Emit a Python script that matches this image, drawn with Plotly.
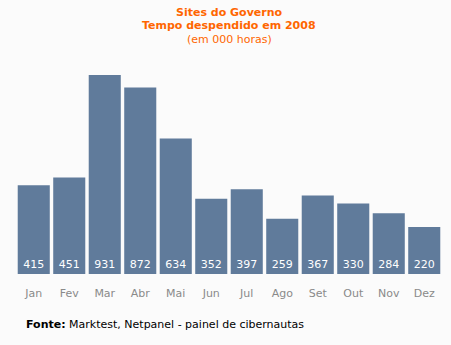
import plotly.graph_objects as go

months = ["Jan", "Fev", "Mar", "Abr", "Mai", "Jun", "Jul", "Ago", "Set", "Out", "Nov", "Dez"]
values = [415, 451, 931, 872, 634, 352, 397, 259, 367, 330, 284, 220]

W, H = 451, 345
l, r, t, b = 16, 9, 75, 71
pw, ph = W - l - r, H - t - b

def ypix(py):
    return (H - b - py) / ph

def xpix(px):
    return (px - l) / pw

bg = "#fbfbfb"
fig = go.Figure(go.Bar(
    x=months, y=values,
    marker=dict(color="#607b9b", line=dict(width=0)),
    text=[str(v) for v in values],
    textposition="inside",
    insidetextanchor="start",
    textangle=0,
    textfont=dict(color="white", size=11, family="DejaVu Sans"),
    hoverinfo="skip",
))

orange = "#ff6600"
fig.update_layout(
    width=W, height=H,
    margin=dict(l=l, r=r, t=t, b=b),
    paper_bgcolor=bg, plot_bgcolor=bg,
    bargap=0.097,
    showlegend=False,
    font=dict(family="DejaVu Sans", size=11),
    xaxis=dict(showgrid=False, zeroline=False, showline=False,
               ticks="outside", ticklen=9, tickcolor="rgba(0,0,0,0)",
               tickfont=dict(color="#8a8a8a", size=11)),
    yaxis=dict(visible=False, range=[0, 931]),
    annotations=[
        dict(text="<b>Sites do Governo</b>", x=0.5, y=ypix(12), xref="paper", yref="paper",
             yanchor="middle", showarrow=False, font=dict(color=orange, size=11)),
        dict(text="<b>Tempo despendido em 2008</b>", x=0.5, y=ypix(25), xref="paper", yref="paper",
             yanchor="middle", showarrow=False, font=dict(color=orange, size=11)),
        dict(text="(em 000 horas)", x=0.5, y=ypix(39), xref="paper", yref="paper",
             yanchor="middle", showarrow=False, font=dict(color=orange, size=11)),
        dict(text="<b>Fonte:</b> Marktest, Netpanel - painel de cibernautas",
             x=xpix(24), y=ypix(324), xref="paper", yref="paper",
             xanchor="left", yanchor="middle", showarrow=False,
             font=dict(color="black", size=11)),
    ],
)

fig.write_html("out.html")
